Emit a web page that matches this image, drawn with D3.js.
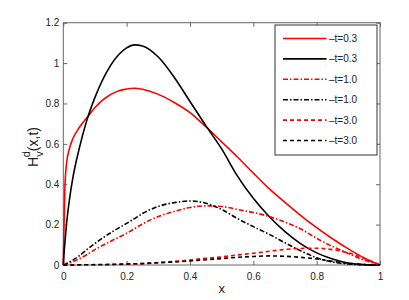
<!DOCTYPE html>
<html>
<head>
<meta charset="utf-8">
<script src="https://cdn.jsdelivr.net/npm/d3@7"></script>
<style>
  body { margin: 0; background: #fff; }
  text { font-family: "Liberation Sans", Arial, sans-serif; }
</style>
</head>
<body>
<svg id="chart" width="409" height="300"></svg>
<script>
// x samples (denser near 0 where the t=0.3 curves are steep)
const xs = [0, 0.002, 0.005, 0.01, 0.02, 0.03, 0.05, 0.075, 0.1, 0.15, 0.2, 0.225, 0.25, 0.3, 0.35, 0.4, 0.45, 0.5, 0.55, 0.6, 0.65, 0.7, 0.75, 0.8, 0.85, 0.9, 0.95, 1];

const redSolid   = [0, 0.17, 0.38, 0.50, 0.58, 0.625, 0.68, 0.73, 0.78, 0.845, 0.872, 0.875, 0.87, 0.845, 0.805, 0.755, 0.685, 0.61, 0.535, 0.455, 0.378, 0.31, 0.245, 0.185, 0.13, 0.08, 0.035, 0];
const blackSolid = [0, 0.05, 0.11, 0.20, 0.33, 0.43, 0.575, 0.72, 0.83, 0.99, 1.075, 1.09, 1.085, 1.03, 0.93, 0.81, 0.69, 0.575, 0.44, 0.33, 0.24, 0.165, 0.105, 0.06, 0.03, 0.01, 0.002, 0];
const redDashDot = [0, 0.001, 0.002, 0.005, 0.01, 0.016, 0.03, 0.052, 0.076, 0.118, 0.157, 0.18, 0.203, 0.24, 0.265, 0.285, 0.293, 0.29, 0.275, 0.26, 0.24, 0.212, 0.178, 0.132, 0.092, 0.057, 0.024, 0];
const blackDashDot = [0, 0.001, 0.003, 0.007, 0.015, 0.024, 0.045, 0.077, 0.107, 0.16, 0.206, 0.23, 0.255, 0.29, 0.309, 0.317, 0.306, 0.275, 0.23, 0.19, 0.152, 0.11, 0.07, 0.036, 0.015, 0.005, 0.001, 0];
const redDashed  = [0, 0, 0, 0, 0, 0, 0, 0.001, 0.001, 0.002, 0.004, 0.005, 0.007, 0.012, 0.018, 0.025, 0.033, 0.04, 0.05, 0.058, 0.068, 0.077, 0.082, 0.083, 0.076, 0.06, 0.033, 0];
const blackDashed = [0, 0, 0, 0, 0, 0, 0.001, 0.001, 0.002, 0.003, 0.005, 0.006, 0.007, 0.011, 0.015, 0.02, 0.026, 0.032, 0.038, 0.042, 0.045, 0.043, 0.038, 0.03, 0.018, 0.008, 0.002, 0];

const xTicks = [0, 0.2, 0.4, 0.6, 0.8, 1];
const yTicks = [0, 0.2, 0.4, 0.6, 0.8, 1, 1.2];
const legendLabels = ["\u2013t=0.3", "\u2013t=0.3", "\u2013t=1.0", "\u2013t=1.0", "\u2013t=3.0", "\u2013t=3.0"];

const series = [
  { values: redSolid,     color: "#ff0000", dash: null },
  { values: blackSolid,   color: "#000000", dash: null },
  { values: redDashDot,   color: "#ff0000", dash: "5,2,1.5,2" },
  { values: blackDashDot, color: "#000000", dash: "5,2,1.5,2" },
  { values: redDashed,    color: "#ff0000", dash: "4,3" },
  { values: blackDashed,  color: "#000000", dash: "4,3" }
];

const svg = d3.select("#chart");
const plotL = 63.3, plotR = 380, plotT = 22.7, plotB = 265;

const x = d3.scaleLinear().domain([0, 1]).range([plotL, plotR]);
const y = d3.scaleLinear().domain([0, 1.2]).range([plotB, plotT]);

const axisColor = "#666";
const tickLen = 4;

// frame
svg.append("rect")
  .attr("x", plotL).attr("y", plotT)
  .attr("width", plotR - plotL).attr("height", plotB - plotT)
  .attr("fill", "none").attr("stroke", axisColor).attr("stroke-width", 1);

// axes with inward ticks (bottom + top, left + right)
const fmt = d => d3.format("~g")(d);
svg.append("g").attr("transform", `translate(0,${plotB})`)
  .call(d3.axisBottom(x).tickValues(xTicks).tickFormat(fmt).tickSizeInner(-tickLen).tickSizeOuter(0).tickPadding(8));
svg.append("g").attr("transform", `translate(0,${plotT})`)
  .call(d3.axisTop(x).tickValues(xTicks).tickFormat("").tickSizeInner(-tickLen).tickSizeOuter(0));
svg.append("g").attr("transform", `translate(${plotL},0)`)
  .call(d3.axisLeft(y).tickValues(yTicks).tickFormat(fmt).tickSizeInner(-tickLen).tickSizeOuter(0).tickPadding(4));
svg.append("g").attr("transform", `translate(${plotR},0)`)
  .call(d3.axisRight(y).tickValues(yTicks).tickFormat("").tickSizeInner(-tickLen).tickSizeOuter(0));

svg.selectAll(".domain").remove();
svg.selectAll(".tick line").attr("stroke", axisColor);
svg.selectAll(".tick text").attr("font-size", 10).attr("fill", "#222");

// curves
const line = d3.line()
  .x((d, i) => x(xs[i]))
  .y(d => y(d))
  .curve(d3.curveMonotoneX);

svg.append("g").selectAll("path")
  .data(series)
  .join("path")
  .attr("d", d => line(d.values))
  .attr("fill", "none")
  .attr("stroke", d => d.color)
  .attr("stroke-width", 1.6)
  .attr("stroke-dasharray", d => d.dash);

// legend
const lg = svg.append("g");
lg.append("rect")
  .attr("x", 275).attr("y", 25).attr("width", 102).attr("height", 130)
  .attr("fill", "#fff").attr("stroke", "#333").attr("stroke-width", 1);
const rows = lg.selectAll("g.row")
  .data(series)
  .join("g")
  .attr("class", "row")
  .attr("transform", (d, i) => `translate(0,${38.5 + i * 20.4})`);
rows.append("line")
  .attr("x1", 283).attr("x2", 326.5).attr("y1", 0).attr("y2", 0)
  .attr("stroke", d => d.color).attr("stroke-width", 1.6)
  .attr("stroke-dasharray", d => d.dash);
rows.append("text")
  .attr("x", 329).attr("y", 3.5)
  .attr("font-size", 10).attr("fill", "#222")
  .text((d, i) => legendLabels[i]);

// axis labels
svg.append("text")
  .attr("x", (plotL + plotR) / 2).attr("y", 293)
  .attr("text-anchor", "middle").attr("font-size", 13).attr("fill", "#222")
  .text("x");

const yl = svg.append("text")
  .attr("transform", `translate(38,147) rotate(-90)`)
  .attr("text-anchor", "middle").attr("font-size", 14).attr("fill", "#222");
yl.append("tspan").text("H");
yl.append("tspan").attr("font-size", 11).attr("dy", 5).text("v");
yl.append("tspan").attr("font-size", 11).attr("dx", -6).attr("dy", -13).text("d");
yl.append("tspan").attr("dy", 8).text("(x,t)");
</script>
</body>
</html>
